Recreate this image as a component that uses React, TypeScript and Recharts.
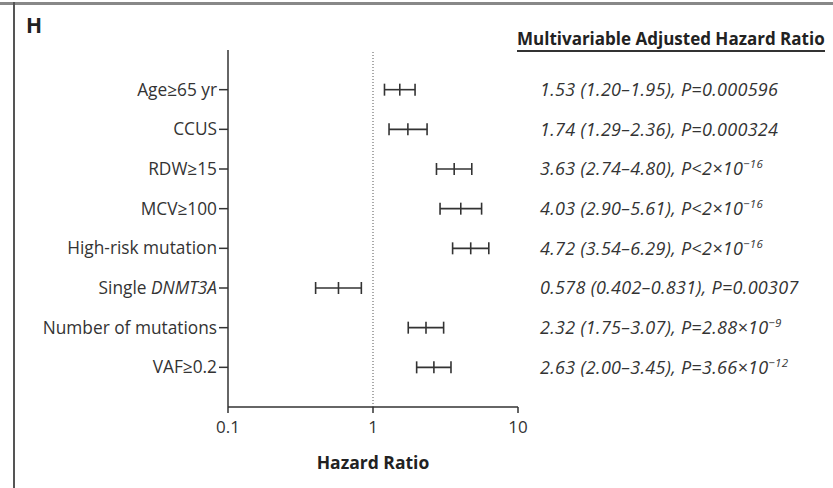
import { ScatterChart, Scatter, XAxis, YAxis, ErrorBar, ReferenceLine, Label } from "recharts";

const CATEGORIES = [
  "Age≥65 yr",
  "CCUS",
  "RDW≥15",
  "MCV≥100",
  "High-risk mutation",
  "Single DNMT3A",
  "Number of mutations",
  "VAF≥0.2",
];
const ITALIC_WORDS = ["DNMT3A"];
const HR = [1.53, 1.74, 3.63, 4.03, 4.72, 0.578, 2.32, 2.63];
const CI_LOW = [1.2, 1.29, 2.74, 2.9, 3.54, 0.402, 1.75, 2.0];
const CI_HIGH = [1.95, 2.36, 4.8, 5.61, 6.29, 0.831, 3.07, 3.45];
const P_TEXT = ["=0.000596", "=0.000324", "<2×10", "<2×10", "<2×10", "=0.00307", "=2.88×10", "=3.66×10"];
const P_EXP = ["", "", "−16", "−16", "−16", "", "−9", "−12"];
const X_TICKS = [0.1, 1, 10];
const ROW_TICKS = CATEGORIES.map((_, i) => i + 1);

const INK = "#333";
const FONT = "'Open Sans', sans-serif";

const data = HR.map((hr, i) => ({
  x: hr,
  y: i + 1,
  err: [hr - CI_LOW[i], CI_HIGH[i] - hr],
}));

const fmt = (v: number) => v.toPrecision(3);

function RowLabel({ x, y, payload }: any) {
  const label = CATEGORIES[payload.value - 1] ?? "";
  const parts = label.split(new RegExp(`(${ITALIC_WORDS.join("|")})`));
  return (
    <text x={x} y={y} dy="0.35em" textAnchor="end" fill={INK} fontSize={17.3} fontFamily={FONT}>
      {parts.map((p, k) => (
        <tspan key={k} fontStyle={ITALIC_WORDS.includes(p) ? "italic" : "normal"}>
          {p}
        </tspan>
      ))}
    </text>
  );
}

function RatioLabel({ x, y, payload }: any) {
  const i = payload.value - 1;
  if (i < 0 || i >= HR.length) return null;
  const main = `${fmt(HR[i])} (${fmt(CI_LOW[i])}–${fmt(CI_HIGH[i])}), P${P_TEXT[i]}`;
  return (
    <text
      x={x}
      y={y}
      dy="0.35em"
      textAnchor="start"
      fill={INK}
      fontSize={18}
      letterSpacing={0.3}
      fontStyle="italic"
      fontFamily={FONT}
    >
      <tspan>{main}</tspan>
      {P_EXP[i] && (
        <tspan dy={-7} fontSize={11.5}>
          {P_EXP[i]}
        </tspan>
      )}
    </text>
  );
}

// vertical tick marking the point estimate
const EstimateMark = ({ cx, cy }: any) => (
  <line x1={cx} x2={cx} y1={cy - 6} y2={cy + 6} stroke={INK} strokeWidth={1.6} />
);

const NoMark = () => <g />;

export default function App() {
  return (
    <div style={{ position: "absolute", left: 0, top: 0, width: 833, height: 488, background: "#fff", fontFamily: FONT }}>
      <div style={{ position: "absolute", left: 0, top: 2, width: 833, height: 3, background: "#888" }} />
      <div style={{ position: "absolute", left: 13, top: 2, width: 2, height: 486, background: "#555" }} />
      <div style={{ position: "absolute", left: 26, top: 11, fontSize: 21, fontWeight: 700, color: "#222" }}>H</div>
      <div
        style={{
          position: "absolute",
          left: 517,
          top: 29,
          fontSize: 17,
          fontWeight: 700,
          color: "#222",
          lineHeight: "20px",
          paddingBottom: 1,
          borderBottom: "2px solid #333",
          whiteSpace: "nowrap",
        }}
      >
        Multivariable Adjusted Hazard Ratio
      </div>
      <ScatterChart width={833} height={488} margin={{ top: 50, right: 0, bottom: 0, left: 0 }}>
        <XAxis
          type="number"
          dataKey="x"
          scale="log"
          domain={[0.1, 10]}
          ticks={X_TICKS}
          allowDataOverflow
          height={81}
          tickSize={6}
          tickMargin={8}
          tick={{ fontSize: 17, fill: INK, fontFamily: FONT }}
          stroke={INK}
          strokeWidth={1.5}
        >
          <Label
            value="Hazard Ratio"
            position="insideBottom"
            offset={19}
            style={{ fontSize: 17.5, fontWeight: 700, fill: "#222", fontFamily: FONT }}
          />
        </XAxis>
        <YAxis
          yAxisId="left"
          type="number"
          dataKey="y"
          domain={[0, 9]}
          reversed
          ticks={ROW_TICKS}
          width={228}
          tickSize={9}
          tickMargin={2}
          tick={<RowLabel />}
          stroke={INK}
          strokeWidth={1.5}
        />
        <YAxis
          yAxisId="right"
          orientation="right"
          type="number"
          dataKey="y"
          domain={[0, 9]}
          reversed
          ticks={ROW_TICKS}
          width={315}
          axisLine={false}
          tickLine={false}
          tickSize={0}
          tickMargin={22}
          tick={<RatioLabel />}
        />
        <ReferenceLine yAxisId="left" x={1} stroke="#555" strokeDasharray="1 2" strokeWidth={1} />
        <Scatter yAxisId="left" data={data} shape={<EstimateMark />} isAnimationActive={false}>
          <ErrorBar dataKey="err" direction="x" width={6} stroke={INK} strokeWidth={1.6} isAnimationActive={false} />
        </Scatter>
        <Scatter yAxisId="right" data={data} shape={<NoMark />} isAnimationActive={false} />
      </ScatterChart>
    </div>
  );
}
